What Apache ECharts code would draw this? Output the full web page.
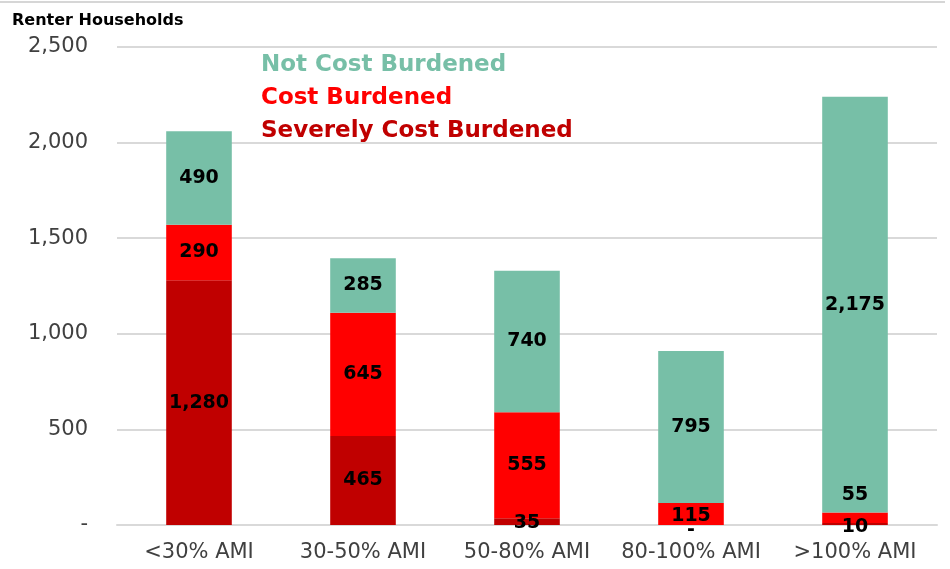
<!DOCTYPE html>
<html>
<head>
<meta charset="utf-8">
<script src="https://cdn.jsdelivr.net/npm/echarts@6/dist/echarts.min.js"></script>
<style>
  html, body { margin: 0; padding: 0; background: #fff; }
  #chart { width: 950px; height: 569px; }
</style>
</head>
<body>
<div id="chart"></div>
<script>
// Renter households by income band (AMI), split by housing cost burden
const categories = ['<30% AMI', '30-50% AMI', '50-80% AMI', '80-100% AMI', '>100% AMI'];
const severelyBurdened = [1280, 465, 35, 0, 10];
const costBurdened = [290, 645, 555, 115, 55];
const notBurdened = [490, 285, 740, 795, 2175];
const yTicks = { min: 0, max: 2500, interval: 500 };

const FONT = '"DejaVu Sans", sans-serif';
const fmt = v => v === 0 ? '-' : v.toLocaleString('en-US');

const labelStyle = {
  show: true,
  position: 'inside',
  color: '#000',
  fontFamily: FONT,
  fontWeight: 'bold',
  fontSize: 19,
  formatter: p => fmt(p.value)
};

// small segments get their labels nudged so they stay readable
function withLabels(values, offsets) {
  return values.map((v, i) => {
    const item = { value: v };
    if (offsets[i]) item.label = { offset: offsets[i] };
    return item;
  });
}

const chart = echarts.init(document.getElementById('chart'));
chart.setOption({
  animation: false,
  backgroundColor: '#fff',
  grid: { left: 117, right: 13, top: 47, bottom: 44, containLabel: false },
  title: {
    text: 'Renter Households',
    left: 7, top: 8,
    textStyle: { fontFamily: FONT, fontWeight: 'bold', fontSize: 16, color: '#000' }
  },
  legend: {
    orient: 'vertical',
    left: 251, top: 49,
    icon: 'none',
    itemWidth: 0, itemHeight: 14,
    itemGap: 10,
    selectedMode: false,
    textStyle: { fontFamily: FONT, fontWeight: 'bold', fontSize: 23 },
    data: [
      { name: 'Not Cost Burdened', textStyle: { color: '#77BFA7' } },
      { name: 'Cost Burdened', textStyle: { color: '#FF0000' } },
      { name: 'Severely Cost Burdened', textStyle: { color: '#C00000' } }
    ]
  },
  xAxis: {
    type: 'category',
    data: categories,
    axisLine: { show: true, lineStyle: { color: '#d9d9d9', width: 2 } },
    axisTick: { show: false },
    axisLabel: { interval: 0, color: '#404040', fontFamily: FONT, fontSize: 21, margin: 17 }
  },
  yAxis: {
    type: 'value',
    min: yTicks.min, max: yTicks.max, interval: yTicks.interval,
    axisLine: { show: false },
    axisTick: { show: false },
    splitLine: { lineStyle: { color: '#d9d9d9', width: 2 } },
    axisLabel: {
      color: '#404040', fontFamily: FONT, fontSize: 21, margin: 29,
      formatter: v => fmt(v)
    }
  },
  graphic: [{
    type: 'line',
    shape: { x1: 0, y1: 2, x2: 945, y2: 2 },
    style: { stroke: '#c8c8c8', lineWidth: 1.5 }
  }],
  series: [
    {
      name: 'Severely Cost Burdened', type: 'bar', stack: 'total',
      barWidth: '40%',
      itemStyle: { color: '#C00000' },
      label: labelStyle,
      data: withLabels(severelyBurdened, [null, null, [0, 1], [0, 5], [0, 3]])
    },
    {
      name: 'Cost Burdened', type: 'bar', stack: 'total',
      itemStyle: { color: '#FF0000' },
      label: labelStyle,
      data: withLabels(costBurdened, [null, null, null, [0, 2], [0, -23]])
    },
    {
      name: 'Not Cost Burdened', type: 'bar', stack: 'total',
      itemStyle: { color: '#77BFA7' },
      label: labelStyle,
      data: withLabels(notBurdened, [null, null, null, null, null])
    }
  ]
});
</script>
</body>
</html>
